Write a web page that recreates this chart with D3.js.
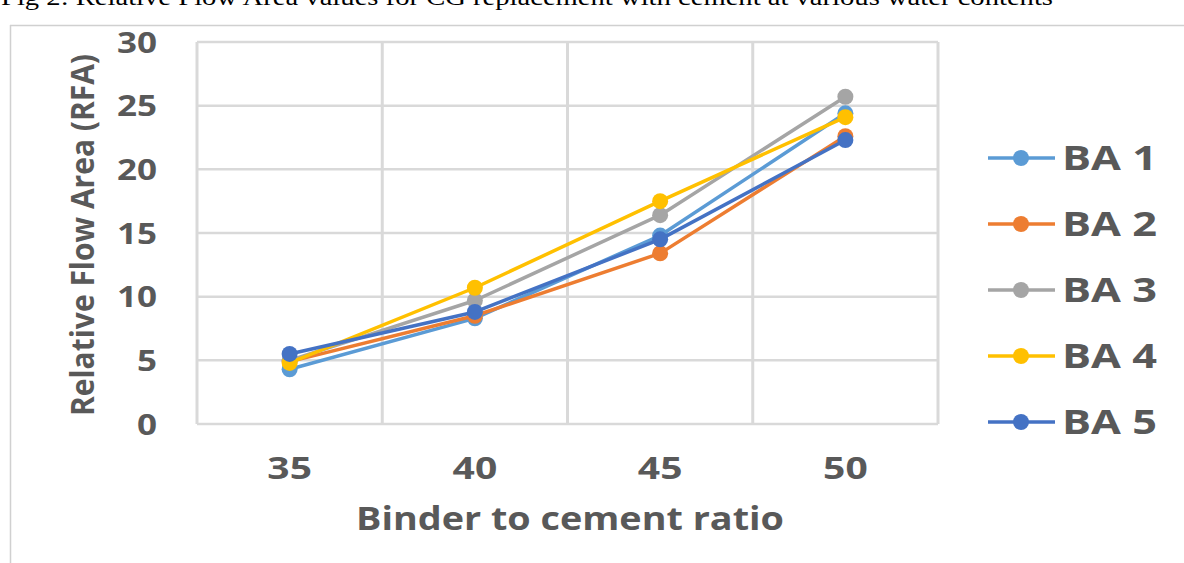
<!DOCTYPE html>
<html>
<head>
<meta charset="utf-8">
<script src="https://cdn.jsdelivr.net/npm/d3@7"></script>
<style>
  html, body { margin: 0; padding: 0; background: #ffffff; overflow: hidden; }
  svg { display: block; }
</style>
</head>
<body>
<svg id="chart" width="1184" height="563"></svg>
<script>
// Binder to cement ratio categories
const ratios = ["35", "40", "45", "50"];

// Relative Flow Area per mix
const seriesNames = ["BA 1", "BA 2", "BA 3", "BA 4", "BA 5"];
const ba1 = [4.3, 8.3, 14.8, 24.4];
const ba2 = [4.9, 8.5, 13.4, 22.6];
const ba3 = [5.0, 9.7, 16.4, 25.7];
const ba4 = [4.8, 10.7, 17.5, 24.1];
const ba5 = [5.5, 8.8, 14.5, 22.3];
const seriesColors = ["#5B9BD5", "#ED7D31", "#A5A5A5", "#FFC000", "#4472C4"];

const yTicks = [0, 5, 10, 15, 20, 25, 30];

const series = [ba1, ba2, ba3, ba4, ba5].map((vals, i) => ({
  name: seriesNames[i],
  color: seriesColors[i],
  values: vals.map((v, j) => ({ cat: ratios[j], v }))
}));

const svg = d3.select("#chart");
const textColor = "#595959";
const gridColor = "#d9d9d9";
const uiFont = "'Open Sans', sans-serif";

// widen a text element horizontally by factor k
function widen(sel, k) {
  sel.each(function () {
    const w = this.getComputedTextLength();
    d3.select(this)
      .attr("textLength", w * k)
      .attr("lengthAdjust", "spacingAndGlyphs");
  });
}

// figure caption (runs off the top edge) and frame
svg.append("text")
  .attr("x", 1).attr("y", 5)
  .attr("font-family", "'Liberation Serif', 'Times New Roman', serif")
  .attr("font-size", 24)
  .attr("fill", "#000")
  .attr("textLength", 1052)
  .attr("lengthAdjust", "spacingAndGlyphs")
  .text("Fig 2: Relative Flow Area values for CG replacement with cement at various water contents");

svg.append("line")
  .attr("x1", 10).attr("x2", 1184).attr("y1", 25.5).attr("y2", 25.5)
  .attr("stroke", "#d0d0d0").attr("stroke-width", 1.5);
svg.append("line")
  .attr("x1", 10.5).attr("x2", 10.5).attr("y1", 25).attr("y2", 563)
  .attr("stroke", "#d0d0d0").attr("stroke-width", 1.5);

const plot = { left: 197, right: 938, top: 42, bottom: 424 };

const x = d3.scaleBand().domain(ratios).range([plot.left, plot.right]).padding(0);
const y = d3.scaleLinear().domain([0, 30]).range([plot.bottom, plot.top]);

// horizontal gridlines
svg.append("g").selectAll("line")
  .data(yTicks)
  .join("line")
  .attr("x1", plot.left).attr("x2", plot.right)
  .attr("y1", d => y(d)).attr("y2", d => y(d))
  .attr("stroke", gridColor).attr("stroke-width", 2.5);

// vertical gridlines at category boundaries
const xEdges = ratios.map(r => x(r)).concat([x(ratios[ratios.length - 1]) + x.bandwidth()]);
svg.append("g").selectAll("line")
  .data(xEdges)
  .join("line")
  .attr("x1", d => d).attr("x2", d => d)
  .attr("y1", plot.top).attr("y2", plot.bottom)
  .attr("stroke", gridColor).attr("stroke-width", 3);

// y axis tick labels
const yAxis = d3.axisLeft(y).tickValues(yTicks).tickSize(0).tickPadding(0);
const yg = svg.append("g").attr("transform", `translate(${plot.left - 40},0)`).call(yAxis);
yg.select(".domain").remove();
yg.selectAll("text")
  .attr("font-family", uiFont)
  .attr("font-weight", 700)
  .attr("font-size", 28)
  .attr("fill", textColor)
  .attr("dy", "0.36em")
  .call(widen, 1.25);

// x axis tick labels
const xAxis = d3.axisBottom(x).tickSize(0).tickPadding(0);
const xg = svg.append("g").attr("transform", `translate(0,${plot.bottom + 34})`).call(xAxis);
xg.select(".domain").remove();
xg.selectAll("text")
  .attr("font-family", uiFont)
  .attr("font-weight", 700)
  .attr("font-size", 30)
  .attr("fill", textColor)
  .attr("dy", "0.71em")
  .call(widen, 1.3);

// axis titles
svg.append("text")
  .attr("x", 570)
  .attr("y", 530)
  .attr("text-anchor", "middle")
  .attr("font-family", uiFont)
  .attr("font-weight", 700)
  .attr("font-size", 33)
  .attr("fill", textColor)
  .attr("textLength", 428)
  .attr("lengthAdjust", "spacingAndGlyphs")
  .text("Binder to cement ratio");

svg.append("text")
  .attr("transform", `translate(94,235) rotate(-90)`)
  .attr("text-anchor", "middle")
  .attr("font-family", uiFont)
  .attr("font-weight", 700)
  .attr("font-size", 33)
  .attr("fill", textColor)
  .attr("textLength", 362)
  .attr("lengthAdjust", "spacingAndGlyphs")
  .text("Relative Flow Area (RFA)");

// series lines and markers
const line = d3.line()
  .x(d => x(d.cat) + x.bandwidth() / 2)
  .y(d => y(d.v));

const sg = svg.append("g").selectAll("g")
  .data(series)
  .join("g");

sg.append("path")
  .attr("d", d => line(d.values))
  .attr("fill", "none")
  .attr("stroke", d => d.color)
  .attr("stroke-width", 3.5)
  .attr("stroke-linejoin", "round");

sg.selectAll("circle")
  .data(d => d.values.map(p => ({ ...p, color: d.color })))
  .join("circle")
  .attr("cx", d => x(d.cat) + x.bandwidth() / 2)
  .attr("cy", d => y(d.v))
  .attr("r", 8)
  .attr("fill", d => d.color);

// legend
const legend = svg.append("g").selectAll("g")
  .data(series)
  .join("g")
  .attr("transform", (d, i) => `translate(988,${158 + i * 66})`);

legend.append("line")
  .attr("x1", 0).attr("x2", 67)
  .attr("stroke", d => d.color)
  .attr("stroke-width", 3.5);
legend.append("circle")
  .attr("cx", 33).attr("r", 8)
  .attr("fill", d => d.color);
legend.append("text")
  .attr("x", 74)
  .attr("dy", "0.36em")
  .attr("font-family", uiFont)
  .attr("font-weight", 700)
  .attr("font-size", 34)
  .attr("fill", textColor)
  .attr("textLength", 95)
  .attr("lengthAdjust", "spacingAndGlyphs")
  .text(d => d.name);
</script>
</body>
</html>
